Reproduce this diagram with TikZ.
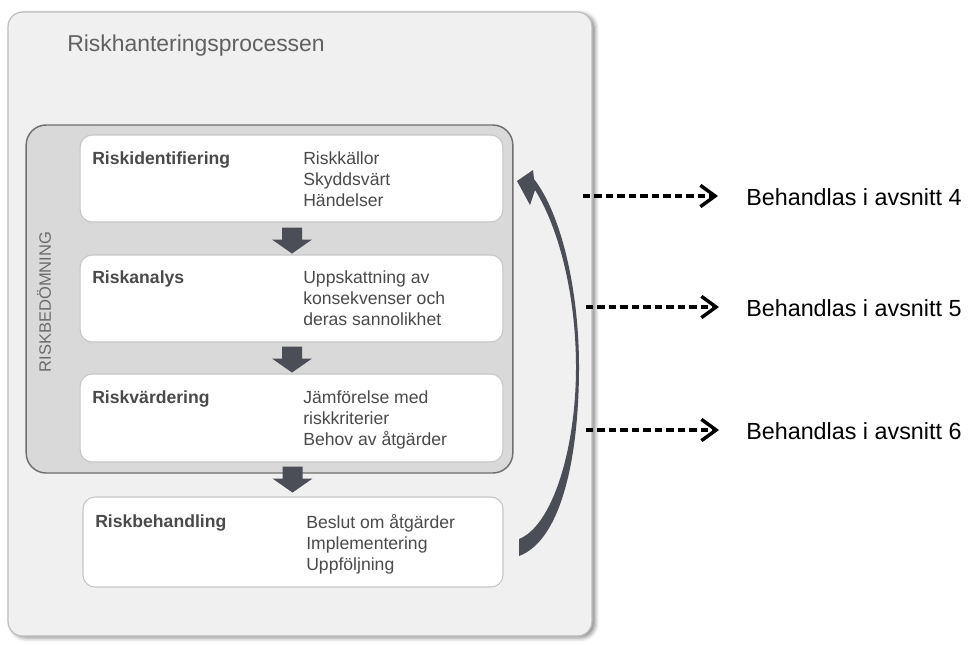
\documentclass[tikz,border=0pt]{standalone}
\usepackage{fontspec}
\setmainfont{Liberation Sans}
\usetikzlibrary{calc,arrows.meta,shadows.blur}

\definecolor{panel}{HTML}{F0F0F0}
\definecolor{panelline}{HTML}{BDBDBD}
\definecolor{group}{HTML}{D9D9D9}
\definecolor{groupline}{HTML}{707070}
\definecolor{boxline}{HTML}{C6C6C6}
\definecolor{ink}{HTML}{4B4E57}
\definecolor{txt}{HTML}{4A4A4A}

\tikzset{
  x=0.75pt, y=-0.75pt,
  panelbox/.style={draw=panelline, line width=0.9pt, fill=panel, rounded corners=11pt,
    minimum width=438pt, minimum height=468pt, inner sep=0pt,
    blur shadow={shadow xshift=2.5pt, shadow yshift=-1.5pt, shadow blur radius=3pt, shadow opacity=45}},
  groupbox/.style={draw=groupline, line width=1.1pt, fill=group, rounded corners=15pt,
    minimum width=365pt, minimum height=261pt, inner sep=0pt},
  stagebox/.style={draw=boxline, line width=0.8pt, fill=white, rounded corners=9pt,
    minimum width=317pt, minimum height=65.25pt, inner sep=0pt},
  stagename/.style={anchor=north west, inner sep=0pt, align=left, text=txt,
    font=\fontsize{13.2}{15.75}\selectfont\bfseries},
  stageitems/.style={anchor=north west, inner sep=0pt, align=left, text=txt,
    font=\fontsize{13.2}{15.75}\selectfont},
  blockarrow/.style={fill=ink},
  refarrow/.style={draw=black, line width=2.6pt, dash pattern=on 5.6pt off 3pt,
    -{Straight Barb[length=11pt,width=16pt,line width=2.6pt]}},
  reftext/.style={anchor=west, inner sep=0pt, font=\fontsize{17.5}{21}\selectfont},
}

% downward block arrow from a point just below one stage box
\newcommand\stagestep[1]{%
  \fill[blockarrow] ($(#1)+(-10,0)$) -- ++(20,0) -- ++(0,12) -- ++(10,0)
    -- ($(#1)+(0,26)$) -- ($(#1)+(-20,12)$) -- ++(10,0) -- cycle;}

\begin{document}
\begin{tikzpicture}
\useasboundingbox (0,0) rectangle (969,644);

% outer panel with title
\node[panelbox] (panel) at (300,324) {};
\node[anchor=west, inner sep=0pt, text=black!62, font=\fontsize{17.2}{20}\selectfont]
  (title) at (67,46) {Riskhanteringsprocessen};

% risk assessment group
\node[groupbox] (group) at (269.5,299) {};
\node[rotate=90, inner sep=0pt, text=black!58, font=\fontsize{12.4}{14}\selectfont]
  (grouplabel) at (44,302) {RISKBEDÖMNING};

% stage boxes
\node[stagebox] (b1) at (291.5,178.5) {};
\node[stagebox] (b2) at (291.5,298.5) {};
\node[stagebox, minimum height=66pt] (b3) at (291.5,418) {};
\node[stagebox, minimum width=315pt, minimum height=67.5pt] (b4) at (293,542) {};

\node[stagename] (n1) at (92,151) {Riskidentifiering};
\node[stageitems] (i1) at (303,151) {Riskkällor\\Skyddsvärt\\Händelser};
\node[stagename] (n2) at (92,270) {Riskanalys};
\node[stageitems] (i2) at (303,270) {Uppskattning av\\konsekvenser och\\deras sannolikhet};
\node[stagename] (n3) at (92,390) {Riskvärdering};
\node[stageitems] (i3) at (303,390) {Jämförelse med\\riskkriterier\\Behov av åtgärder};
\node[stagename] (n4) at (95,514) {Riskbehandling};
\node[stageitems] (i4) at (306,514) {Beslut om åtgärder\\Implementering\\Uppföljning};

% flow between stages
\stagestep{$(b1.south)+(0.5,5)$}
\stagestep{$(b2.south)+(0.5,4)$}
\stagestep{$(b3.south)+(1,4)$}

% feedback arrow from treatment back to identification (tapering band)
\fill[ink] (517,181) -- (533,170) -- (534,179)
  .. controls (562,215) and (579,292) .. (579,367)
  .. controls (579,455) and (562,540) .. (519,556)
  -- (519,539)
  .. controls (552,526) and (576,450) .. (576,367)
  .. controls (576,298) and (560,230) .. (535,190)
  -- (530,205) -- cycle;

% section references
\node[reftext] (t4) at (746,197) {Behandlas i avsnitt 4};
\node[reftext] (t5) at (746,308) {Behandlas i avsnitt 5};
\node[reftext] (t6) at (746,431) {Behandlas i avsnitt 6};
\coordinate (s4) at (583,196);
\coordinate (s5) at (586,307);
\coordinate (s6) at (586,430);
\draw[refarrow] (s4) -- ($(t4.west)+(-28,-1)$);
\draw[refarrow] (s5) -- ($(t5.west)+(-27,-1)$);
\draw[refarrow] (s6) -- ($(t6.west)+(-27,-1)$);
\end{tikzpicture}
\end{document}
